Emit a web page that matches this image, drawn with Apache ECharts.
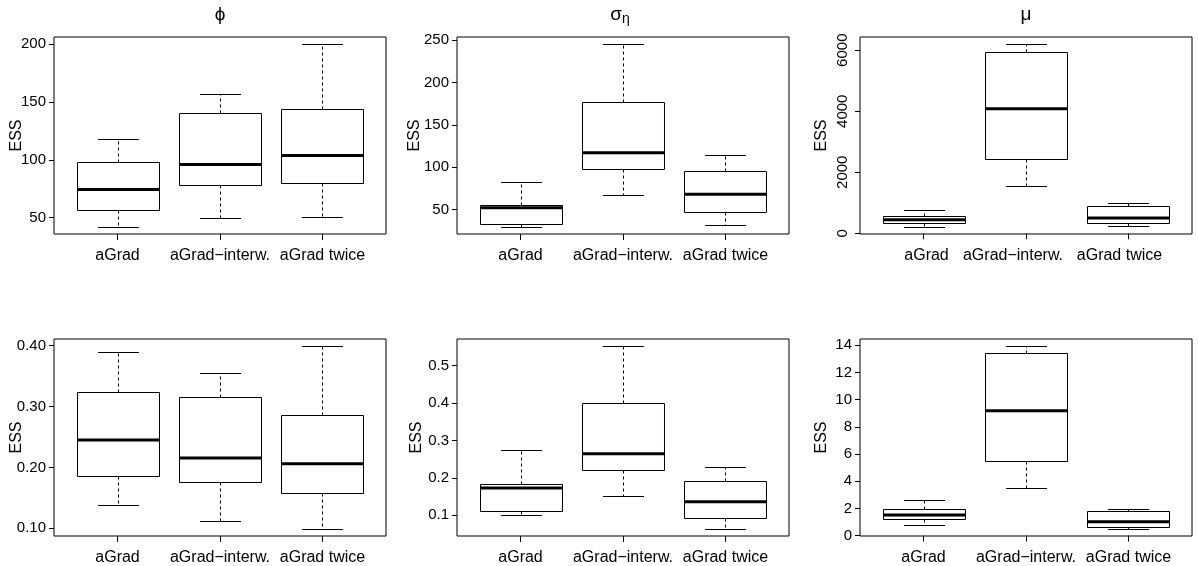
<!DOCTYPE html>
<html>
<head>
<meta charset="utf-8">
<script src="https://cdn.jsdelivr.net/npm/echarts@6/dist/echarts.min.js"></script>
<style>
html,body{margin:0;padding:0;background:#fff;}
#c{width:1198px;height:566px;}
</style>
</head>
<body>
<div id="c"></div>
<script>
// ---- data (min, Q1, median, Q3, max) per method ----
const methods = ['aGrad', 'aGrad\u2212interw.', 'aGrad twice'];

const phiTop = [[42.2, 56.6, 74.4, 98.3, 118.1], [49.7, 78.4, 96.0, 140.2, 157.2], [50.5, 80.2, 103.7, 144.0, 200.0]];
const sigmaTop = [[29.7, 33.2, 52.0, 55.1, 82.9], [67.2, 97.7, 117.0, 177.2, 245.3], [32.0, 47.2, 68.0, 95.8, 114.6]];
const muTop = [[215, 346, 443, 574, 770], [1565, 2432, 4085, 5953, 6194], [248, 326, 499, 880, 988]];
const phiBottom = [[0.138, 0.1855, 0.245, 0.3245, 0.390], [0.112, 0.176, 0.2156, 0.3163, 0.3547], [0.0994, 0.158, 0.206, 0.2867, 0.399]];
const sigmaBottom = [[0.100, 0.1107, 0.1728, 0.1826, 0.2733], [0.1523, 0.220, 0.2643, 0.3995, 0.5515], [0.0643, 0.0936, 0.1363, 0.1915, 0.2288]];
const muBottom = [[0.755, 1.22, 1.52, 1.93, 2.59], [3.54, 5.48, 9.18, 13.41, 13.93], [0.51, 0.66, 1.03, 1.78, 1.98]];

// ---- tick values and labels ----
const phiTopTicks = [50, 100, 150, 200];
const phiTopLabels = ['50', '100', '150', '200'];
const sigmaTopTicks = [50, 100, 150, 200, 250];
const sigmaTopLabels = ['50', '100', '150', '200', '250'];
const muTopTicks = [0, 2000, 4000, 6000];
const muTopLabels = ['0', '2000', '4000', '6000'];
const phiBottomTicks = [0.1, 0.2, 0.3, 0.4];
const phiBottomLabels = ['0.10', '0.20', '0.30', '0.40'];
const sigmaBottomTicks = [0.1, 0.2, 0.3, 0.4, 0.5];
const sigmaBottomLabels = ['0.1', '0.2', '0.3', '0.4', '0.5'];
const muBottomTicks = [0, 2, 4, 6, 8, 10, 12, 14];
const muBottomLabels = ['0', '2', '4', '6', '8', '10', '12', '14'];

const yName = 'ESS';
const titles = ['\u03D5', '{a|\u03C3}{b|\u03B7}', '\u03BC'];

// ---- layout ----
const FONT = '"Liberation Sans", Arial, Helvetica, sans-serif';
const panels = [
  {data: phiTop, ticks: phiTopTicks, labels: phiTopLabels, left: 54, top: 37, h: 197, rot: 0, gap: 29, shift: [0, 0, 0]},
  {data: sigmaTop, ticks: sigmaTopTicks, labels: sigmaTopLabels, left: 457, top: 37, h: 197, rot: 0, gap: 34, shift: [0, 0, 0]},
  {data: muTop, ticks: muTopTicks, labels: muTopLabels, left: 860, top: 37, h: 197, rot: 90, gap: 30, shift: [3, -13, -9]},
  {data: phiBottom, ticks: phiBottomTicks, labels: phiBottomLabels, left: 54, top: 339, h: 198, rot: 0, gap: 29, shift: [0, 0, 0]},
  {data: sigmaBottom, ticks: sigmaBottomTicks, labels: sigmaBottomLabels, left: 457, top: 339, h: 198, rot: 0, gap: 32, shift: [0, 0, 0]},
  {data: muBottom, ticks: muBottomTicks, labels: muBottomLabels, left: 860, top: 339, h: 198, rot: 0, gap: 30, shift: [0, 0, 0]}
];
const W = 332;
const n = methods.length;
const xMin = 0.5 - 0.04 * n, xMax = n + 0.5 + 0.04 * n;

function renderBox(params, api) {
  const x = api.value(0);
  const v = [api.value(1), api.value(2), api.value(3), api.value(4), api.value(5)];
  const hw = api.size([0.4, 0])[0];
  const cw = hw / 2;
  const p = v.map(val => api.coord([x, val]));
  const cx = Math.round(p[2][0]) + 0.5;
  const Y = p.map(q => Math.round(q[1]) + 0.5);
  const solid = {stroke: '#000', lineWidth: 1, fill: null};
  const dashed = {stroke: '#000', lineWidth: 1, lineDash: [3, 3], fill: null};
  return {
    type: 'group',
    children: [
      {type: 'line', shape: {x1: cx, y1: Y[3], x2: cx, y2: Y[4]}, style: dashed},
      {type: 'line', shape: {x1: cx, y1: Y[1], x2: cx, y2: Y[0]}, style: dashed},
      {type: 'line', shape: {x1: cx - cw, y1: Y[4], x2: cx + cw, y2: Y[4]}, style: solid},
      {type: 'line', shape: {x1: cx - cw, y1: Y[0], x2: cx + cw, y2: Y[0]}, style: solid},
      {type: 'rect', shape: {x: cx - hw, y: Y[3], width: 2 * hw, height: Y[1] - Y[3]}, style: {fill: '#fff', stroke: '#000', lineWidth: 1}},
      {type: 'line', shape: {x1: cx - hw, y1: p[2][1], x2: cx + hw, y2: p[2][1]}, style: {stroke: '#000', lineWidth: 3}}
    ]
  };
}

const grid = [], xAxis = [], yAxis = [], series = [];
panels.forEach((pn, i) => {
  let lo = Infinity, hi = -Infinity;
  pn.data.forEach(r => r.forEach(v => { lo = Math.min(lo, v); hi = Math.max(hi, v); }));
  const ext = 0.04 * (hi - lo);
  const rich = {};
  pn.shift.forEach((s, k) => {
    rich['s' + k] = {fontSize: 16, fontFamily: FONT, color: '#000',
      padding: s >= 0 ? [0, 0, 0, 2 * s] : [0, -2 * s, 0, 0]};
  });
  grid.push({left: pn.left, top: pn.top, width: W, height: pn.h, show: true,
    borderColor: '#000', borderWidth: 1, backgroundColor: 'transparent', containLabel: false});
  xAxis.push({
    gridIndex: i, type: 'value', min: xMin, max: xMax,
    axisLine: {show: false}, splitLine: {show: false},
    axisTick: {show: true, customValues: [1, 2, 3], length: 6, lineStyle: {color: '#000'}},
    axisLabel: {show: true, customValues: [1, 2, 3], margin: 14, color: '#000', fontSize: 16, fontFamily: FONT,
      hideOverlap: false, rich: rich,
      formatter: v => { const k = Math.round(v) - 1; return '{s' + k + '|' + methods[k] + '}'; }}
  });
  yAxis.push({
    gridIndex: i, type: 'value', min: lo - ext, max: hi + ext,
    name: yName, nameLocation: 'middle', nameRotate: 90, nameGap: pn.gap, nameMoveOverlap: false,
    nameTextStyle: {color: '#000', fontSize: 16, fontFamily: FONT},
    axisLine: {show: false}, splitLine: {show: false},
    axisTick: {show: true, customValues: pn.ticks, length: 5, lineStyle: {color: '#000'}},
    axisLabel: {show: true, customValues: pn.ticks, margin: pn.rot ? 10 : 8, rotate: pn.rot, color: '#000', fontSize: 15, fontFamily: FONT,
      formatter: v => { const k = pn.ticks.findIndex(t => Math.abs(t - v) < 1e-9); return k >= 0 ? pn.labels[k] : ''; }}
  });
  series.push({
    type: 'custom', xAxisIndex: i, yAxisIndex: i, clip: false,
    encode: {x: 0, y: [1, 2, 3, 4, 5]},
    renderItem: renderBox,
    data: pn.data.map((r, k) => [k + 1].concat(r))
  });
});

const graphic = titles.map((t, i) => ({
  type: 'text', x: panels[i].left + W / 2 - (i === 1 ? 3 : 0), y: 15,
  style: {text: t, x: 0, y: 0, align: 'center', verticalAlign: 'middle', fill: '#000',
    font: '19px ' + FONT, fontSize: 19, fontFamily: FONT,
    rich: {a: {fontSize: 19, fontFamily: FONT, lineHeight: 22, fill: '#000'},
           b: {fontSize: 14, fontFamily: FONT, lineHeight: 10, verticalAlign: 'bottom', fill: '#000'}}}
}));

const chart = echarts.init(document.getElementById('c'), null, {renderer: 'canvas'});
chart.setOption({animation: false, backgroundColor: '#fff', grid, xAxis, yAxis, series, graphic});
</script>
</body>
</html>
